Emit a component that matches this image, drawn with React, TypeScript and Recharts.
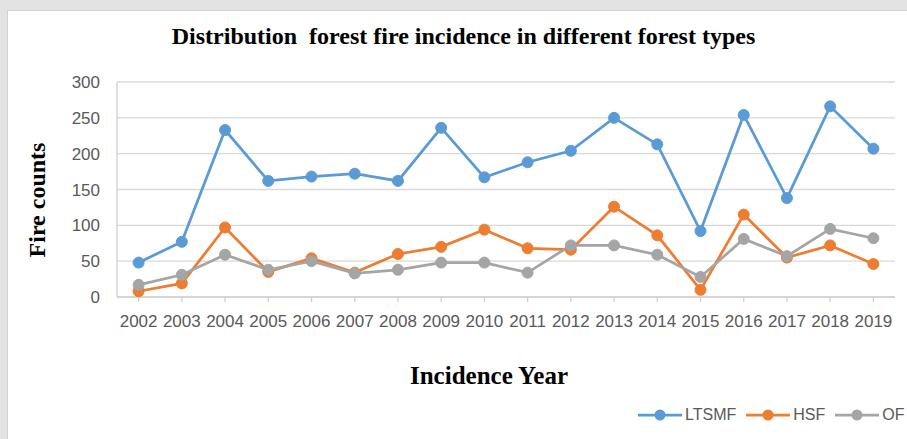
import React from "react";
import { LineChart, Line, XAxis, YAxis, CartesianGrid } from "recharts";

const years = ["2002","2003","2004","2005","2006","2007","2008","2009","2010","2011","2012","2013","2014","2015","2016","2017","2018","2019"];
const ltsmf = [48, 77, 233, 162, 168, 172, 162, 236, 167, 188, 204, 250, 213, 92, 254, 138, 266, 207];
const hsf = [8, 19, 97, 35, 54, 34, 60, 70, 94, 68, 66, 126, 86, 10, 115, 55, 72, 46];
const of = [17, 31, 59, 38, 50, 33, 38, 48, 48, 34, 72, 72, 59, 28, 81, 57, 95, 82];
const yTicks = [0, 50, 100, 150, 200, 250, 300];

const seriesNames = ["LTSMF", "HSF", "OF"];
const colors = ["#5B9BD5", "#ED7D31", "#A5A5A5"];

const data = years.map((y, i) => ({ year: y, LTSMF: ltsmf[i], HSF: hsf[i], OF: of[i] }));

const serif = '"Liberation Serif", "Times New Roman", serif';
const sans = '"Liberation Sans", Arial, sans-serif';

export default function App() {
  return (
    <div style={{ position: "absolute", left: 0, top: 0, width: 907, height: 439, background: "#e3e3e3", overflow: "hidden" }}>
      <div style={{ position: "absolute", left: 7, top: 10, width: 900, height: 429, background: "#ffffff", borderLeft: "1px solid #d2d2d2", borderTop: "1px solid #d2d2d2" }} />
      <div style={{ position: "absolute", left: 0, top: 0, width: 907, height: 439 }}>
        <LineChart width={907} height={439} data={data} margin={{ top: 82, right: 12, bottom: 112, left: 57 }}>
          <CartesianGrid vertical={false} stroke="#d9d9d9" strokeWidth={1.3} />
          <XAxis
            dataKey="year"
            scale="band"
            height={30}
            axisLine={{ stroke: "#d0d0d0", strokeWidth: 1.3 }}
            tickLine={{ stroke: "#d0d0d0", strokeWidth: 1.3 }}
            tickSize={5}
            tickMargin={13}
            interval={0}
            tick={{ fill: "#595959", fontSize: 17, fontFamily: sans }}
          />
          <YAxis
            domain={[0, 300]}
            ticks={yTicks}
            width={60}
            axisLine={{ stroke: "#d0d0d0", strokeWidth: 1.3 }}
            tickLine={false}
            tickMargin={11}
            tick={{ fill: "#595959", fontSize: 17, fontFamily: sans }}
          />
          {seriesNames.map((s, i) => (
            <Line
              key={s}
              dataKey={s}
              type="linear"
              stroke={colors[i]}
              strokeWidth={2.75}
              dot={{ r: 5.5, fill: colors[i], stroke: colors[i], strokeWidth: 1 }}
              activeDot={false}
              isAnimationActive={false}
            />
          ))}
        </LineChart>
      </div>
      <div style={{ position: "absolute", left: 0, width: 927, top: 23, textAlign: "center", fontFamily: serif, fontWeight: "bold", fontSize: 24, color: "#000", whiteSpace: "pre" }}>
        {"Distribution  forest fire incidence in different forest types"}
      </div>
      <div style={{ position: "absolute", left: 37, top: 200, transform: "translate(-50%, -50%) rotate(-90deg)", fontFamily: serif, fontWeight: "bold", fontSize: 24, color: "#000", whiteSpace: "nowrap" }}>
        Fire counts
      </div>
      <div style={{ position: "absolute", left: 489, top: 376, transform: "translate(-50%, -50%)", fontFamily: serif, fontWeight: "bold", fontSize: 25, color: "#000", whiteSpace: "nowrap" }}>
        Incidence Year
      </div>
      <div style={{ position: "absolute", left: 638, top: 415, transform: "translateY(-50%)", display: "flex", alignItems: "center", fontFamily: sans, fontSize: 16, color: "#595959", whiteSpace: "nowrap" }}>
        {seriesNames.map((s, i) => (
          <div key={s} style={{ display: "flex", alignItems: "center", marginRight: 10 }}>
            <svg width={44} height={12} style={{ marginRight: 3 }}>
              <line x1={0} y1={6} x2={44} y2={6} stroke={colors[i]} strokeWidth={2.75} />
              <circle cx={22} cy={6} r={5.5} fill={colors[i]} />
            </svg>
            <span>{s}</span>
          </div>
        ))}
      </div>
    </div>
  );
}
